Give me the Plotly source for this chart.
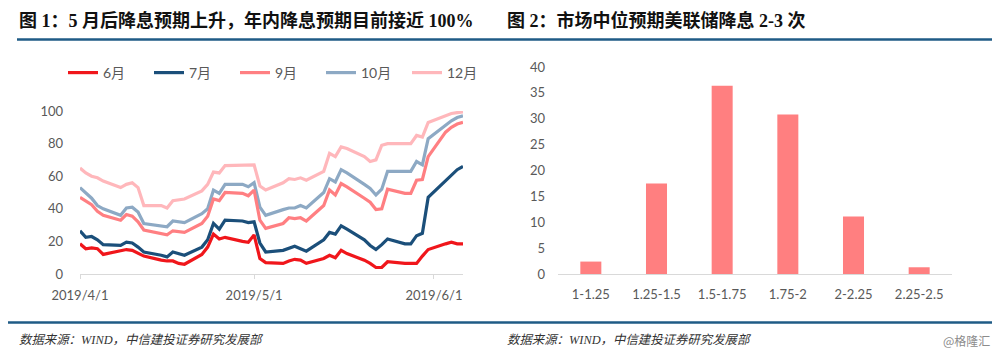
import plotly.graph_objects as go
import pandas as pd

# ---------------- data ----------------
dates = pd.to_datetime([
    "2019-04-01", "2019-04-02", "2019-04-03", "2019-04-04", "2019-04-05",
    "2019-04-08", "2019-04-09", "2019-04-10", "2019-04-11", "2019-04-12",
    "2019-04-15", "2019-04-16", "2019-04-17", "2019-04-18", "2019-04-19",
    "2019-04-22", "2019-04-23", "2019-04-24", "2019-04-25", "2019-04-26",
    "2019-04-29", "2019-04-30", "2019-05-01", "2019-05-02", "2019-05-03",
    "2019-05-06", "2019-05-07", "2019-05-08", "2019-05-09", "2019-05-10",
    "2019-05-13", "2019-05-14", "2019-05-15", "2019-05-16", "2019-05-17",
    "2019-05-20", "2019-05-21", "2019-05-22", "2019-05-23", "2019-05-24",
    "2019-05-27", "2019-05-28", "2019-05-29", "2019-05-30", "2019-05-31",
    "2019-06-03", "2019-06-04", "2019-06-05", "2019-06-06",
])

jun = [18.5, 15.5, 16, 15.5, 12,
       14, 15, 14.5, 12.5, 11,
       8.5, 8, 8, 6.5, 6,
       12, 16.5, 24.5, 21.5, 22.5,
       20, 19.5, 24, 9.5, 7,
       6.5, 8, 9, 8.5, 6.5,
       9.5, 11.5, 10, 14.5, 12.5,
       8.5, 6.5, 4, 4, 7.5,
       6.5, 6.5, 6.5, 11, 15,
       18.5, 19.5, 18.5, 18.5]

jul = [26.5, 22.5, 23, 21, 18,
       17.5, 19.5, 19, 16.5, 13.5,
       11.5, 10.5, 13.5, 12.5, 11.5,
       16.5, 21, 31, 27.5, 33,
       32.5, 31.5, 32, 19, 13.5,
       14.5, 16, 17, 15.5, 14,
       21, 25.5, 24.5, 29.5, 27.5,
       21, 17.5, 15, 18, 21.5,
       18.5, 18.5, 23.5, 25, 47,
       57, 60.5, 64, 66]

sep = [47, 44.5, 42.5, 38.5, 36,
       33, 36.5, 35.5, 32, 27,
       24.5, 24, 26.5, 26, 25.5,
       31, 35.5, 46, 45, 50,
       49.5, 48, 51.5, 33, 28,
       31, 34.5, 34, 34.5, 32.5,
       42, 51.5, 48.5, 55.5, 53.5,
       46.5, 44, 39.5, 40, 52,
       49.5, 49.5, 57.5, 58, 72,
       87, 90, 92, 93]

octo = [53, 49.5, 46.5, 42, 40,
        36, 40.5, 41, 38, 31,
        29.5, 29, 32.5, 32, 31.5,
        37, 40, 51.5, 49.5, 55,
        55, 53.5, 56, 41, 36,
        39.5, 40.5, 40.5, 42, 40.5,
        50, 58.5, 56.5, 64, 62,
        55, 52.5, 48.5, 52, 63,
        63, 63, 69, 67, 83,
        91.5, 94, 96, 97]

dec = [65, 62, 60, 59, 57,
       53, 55, 56, 53, 42,
       42, 40.5, 45, 45.5, 46,
       51, 55, 62.5, 62, 66.5,
       67, 67, 67, 54, 51.5,
       56, 58.5, 58, 59, 57.5,
       63, 74, 72, 78, 77,
       72, 69, 70, 79, 80,
       80, 80, 85, 84, 93,
       97.5, 98.5, 99, 99.5]

series_names = ["6月", "7月", "9月", "10月", "12月"]
series_values = [jun, jul, sep, octo, dec]
series_colors = ["#F0161B", "#1B4F7A", "#FF7F82", "#8DA9C4", "#FFB7BB"]

left_xticks = pd.to_datetime(["2019-04-01", "2019-05-01", "2019-06-01"])
left_xtick_labels = ["2019/4/1", "2019/5/1", "2019/6/1"]
left_yticks = [0, 20, 40, 60, 80, 100]

bar_categories = ["1-1.25", "1.25-1.5", "1.5-1.75", "1.75-2", "2-2.25", "2.25-2.5"]
bar_values = [2.4, 17.5, 36.4, 30.8, 11.1, 1.3]
right_yticks = [0, 5, 10, 15, 20, 25, 30, 35, 40]

title_left = "图 1：5 月后降息预期上升，年内降息预期目前接近 100%"
title_right = "图 2：市场中位预期美联储降息 2-3 次"
source_text = "数据来源：WIND，中信建投证券研究发展部"
watermark = "@格隆汇"

# ---------------- figure ----------------
W, H = 1000, 355
def py(y):
    return 1 - y / H

TICK_FONT = dict(family="Lato, Noto Sans CJK SC, sans-serif", size=13, color="#595959")
TITLE_FONT = dict(family="Liberation Serif, Noto Sans CJK SC, serif", size=18, color="#111111")
SRC_FONT = dict(family="Liberation Serif, Noto Sans CJK SC, serif", size=12.4, color="#333333", style="italic")

fig = go.Figure()

# light series drawn first (behind)
for name, vals, col in reversed(list(zip(series_names, series_values, series_colors))):
    fig.add_trace(go.Scatter(
        x=dates, y=vals, name=name, mode="lines",
        line=dict(color=col, width=3.2),
        xaxis="x", yaxis="y",
    ))

fig.add_trace(go.Bar(
    x=bar_categories, y=bar_values, marker=dict(color="#FF7F80", line=dict(width=0)),
    showlegend=False, xaxis="x2", yaxis="y2", width=0.32,
))

fig.update_layout(
    width=W, height=H,
    margin=dict(l=0, r=0, t=0, b=0, autoexpand=False),
    paper_bgcolor="white", plot_bgcolor="white",
    showlegend=True,
    legend=dict(
        orientation="h", x=0.063, y=py(73), xanchor="left", yanchor="middle",
        font=dict(family="Lato, Noto Sans CJK SC, sans-serif", size=14, color="#595959"),
        traceorder="reversed", entrywidth=41, entrywidthmode="pixels",
        bgcolor="rgba(0,0,0,0)",
    ),
    xaxis=dict(
        domain=[0.080, 0.463], type="date",
        range=[pd.Timestamp("2019-04-01"), pd.Timestamp("2019-06-06")],
        tickvals=left_xticks, ticktext=left_xtick_labels,
        showgrid=False, zeroline=False,
        showline=True, linecolor="#D9D9D9", linewidth=1,
        ticks="outside", ticklen=4, tickcolor="#D9D9D9",
        tickfont=TICK_FONT, ticklabelstandoff=5, anchor="y", automargin=False,
    ),
    yaxis=dict(
        domain=[py(274), py(111)], range=[0, 100],
        tickvals=left_yticks, showgrid=False, zeroline=False, showline=False,
        tickfont=TICK_FONT, ticklabelstandoff=16, anchor="x", automargin=False,
    ),
    xaxis2=dict(
        domain=[0.558, 0.952], type="category",
        showgrid=False, zeroline=False,
        showline=True, linecolor="#D9D9D9", linewidth=1,
        ticks="", tickfont=TICK_FONT, ticklabelstandoff=8, anchor="y2", automargin=False,
    ),
    yaxis2=dict(
        domain=[py(274), py(67)], range=[0, 40],
        tickvals=right_yticks, showgrid=False, zeroline=False, showline=False,
        tickfont=TICK_FONT, ticklabelstandoff=12, anchor="x2", automargin=False,
    ),
)

# titles
fig.add_annotation(text="<b>" + title_left + "</b>", x=17 / W, y=py(20), xref="paper", yref="paper",
                   xanchor="left", yanchor="middle", showarrow=False, font=TITLE_FONT)
fig.add_annotation(text="<b>" + title_right + "</b>", x=505 / W, y=py(20), xref="paper", yref="paper",
                   xanchor="left", yanchor="middle", showarrow=False, font=TITLE_FONT)
# sources
fig.add_annotation(text=source_text, x=17 / W, y=py(340), xref="paper", yref="paper",
                   xanchor="left", yanchor="middle", showarrow=False, font=SRC_FONT)
fig.add_annotation(text=source_text, x=505 / W, y=py(340), xref="paper", yref="paper",
                   xanchor="left", yanchor="middle", showarrow=False, font=SRC_FONT)
fig.add_annotation(text=watermark, x=992 / W, y=py(340), xref="paper", yref="paper",
                   xanchor="right", yanchor="middle", showarrow=False,
                   font=dict(family="Noto Sans CJK SC, sans-serif", size=12, color="#8C8C8C"))

# rule lines
fig.add_shape(type="line", xref="paper", yref="paper", x0=17 / W, x1=992 / W, y0=py(39.5), y1=py(39.5),
              line=dict(color="#1F5B86", width=2.5))
fig.add_shape(type="line", xref="paper", yref="paper", x0=8 / W, x1=992 / W, y0=py(322.5), y1=py(322.5),
              line=dict(color="#1F5B86", width=2.5))

fig.write_html("out.html", config={"displayModeBar": False},
               post_script="document.body.style.margin='0';document.body.style.overflow='hidden';")
